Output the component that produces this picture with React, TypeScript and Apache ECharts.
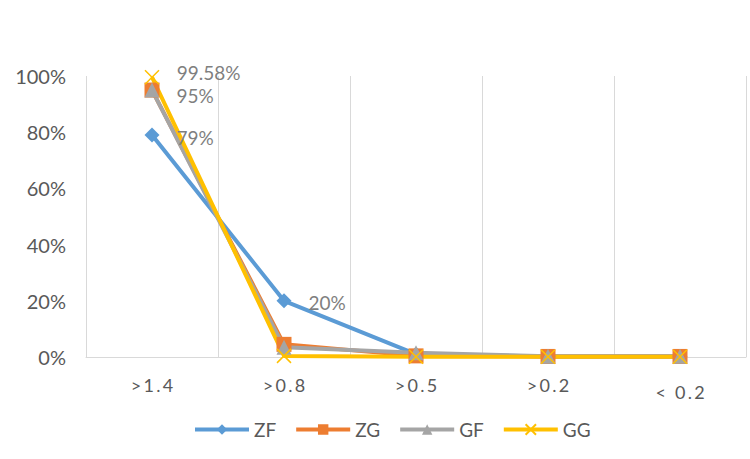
import React, { useEffect, useRef } from "react";
import * as echarts from "echarts";

const categories = [">1.4", ">0.8", ">0.5", ">0.2", "< 0.2"];
const zf = [79, 20, 1.0, 0.2, 0.2];
const zg = [95, 4.5, 0.4, 0.2, 0.2];
const gf = [95, 3.5, 1.5, 0.3, 0.3];
const gg = [99.58, 0.4, 0.1, 0.1, 0.1];

// which points carry a value label, per series
const zfLabelled = [0, 1];
const gfLabelled = [0];
const ggLabelled = [0];

const labelColor = "#7f7f7f";
const axisText = "#595959";
const font = "Lato, 'Open Sans', sans-serif";

function withLabels(values: number[], labelled: number[], dy: number) {
  return values.map((v, i) =>
    labelled.includes(i)
      ? {
          value: v,
          label: {
            show: true,
            position: "right",
            distance: 17,
            offset: [0, dy],
            color: labelColor,
            fontSize: 19,
            fontFamily: font,
            formatter: () => `${v}%`,
          },
        }
      : v
  );
}

export default function App() {
  const ref = useRef<HTMLDivElement>(null);
  useEffect(() => {
    if (!ref.current) return;
    const chart = echarts.init(ref.current, undefined, { renderer: "svg" });
    chart.setOption({
      animation: false,
      backgroundColor: "#ffffff",
      grid: { left: 86, right: 4, top: 76, bottom: 102 },
      legend: {
        top: 415,
        left: 188,
        itemWidth: 54,
        itemHeight: 13,
        itemGap: 18,
        textStyle: { color: axisText, fontSize: 19, fontFamily: font },
        lineStyle: { width: 4 },
        data: ["ZF", "ZG", "GF", "GG"],
      },
      xAxis: {
        type: "category",
        data: categories,
        boundaryGap: true,
        axisLine: { lineStyle: { color: "#d9d9d9", width: 1 } },
        axisTick: { show: false },
        splitLine: { show: true, lineStyle: { color: "#d9d9d9", width: 1 } },
        axisLabel: {
          color: axisText,
          fontSize: 18,
          fontFamily: font,
          margin: 19,
          formatter: (v: string) => {
            const spaced = v.split("").join("\u2009");
            return v.startsWith("<") ? `{low|${spaced}}` : spaced;
          },
          rich: {
            low: { color: axisText, fontSize: 18, fontFamily: font, padding: [7, 0, 0, 0] },
          },
        },
      },
      yAxis: {
        type: "value",
        min: 0,
        max: 100,
        interval: 20,
        axisLine: { show: false },
        axisTick: { show: false },
        splitLine: { show: false },
        axisLabel: {
          color: axisText,
          fontSize: 20,
          fontFamily: font,
          margin: 20,
          formatter: "{value}%",
        },
      },
      series: [
        {
          name: "ZF",
          type: "line",
          data: withLabels(zf, zfLabelled, 2),
          symbol: "diamond",
          symbolSize: 15,
          lineStyle: { color: "#5B9BD5", width: 4 },
          itemStyle: { color: "#5B9BD5" },
        },
        {
          name: "ZG",
          type: "line",
          data: zg,
          symbol: "rect",
          symbolSize: 15,
          lineStyle: { color: "#ED7D31", width: 4 },
          itemStyle: { color: "#ED7D31" },
        },
        {
          name: "GF",
          type: "line",
          data: withLabels(gf, gfLabelled, 5),
          symbol: "triangle",
          symbolSize: 15,
          lineStyle: { color: "#A5A5A5", width: 4 },
          itemStyle: { color: "#A5A5A5" },
        },
        {
          name: "GG",
          type: "line",
          data: withLabels(gg, ggLabelled, -5),
          symbol: "path://M0,0L10,10M10,0L0,10",
          symbolSize: 14,
          lineStyle: { color: "#FFC000", width: 4 },
          itemStyle: { color: "#FFC000", borderColor: "#FFC000", borderWidth: 1.5 },
        },
      ],
    });
    return () => chart.dispose();
  }, []);
  return (
    <div
      ref={ref}
      style={{ position: "fixed", left: 0, top: 0, width: 750, height: 459, background: "#fff" }}
    />
  );
}
